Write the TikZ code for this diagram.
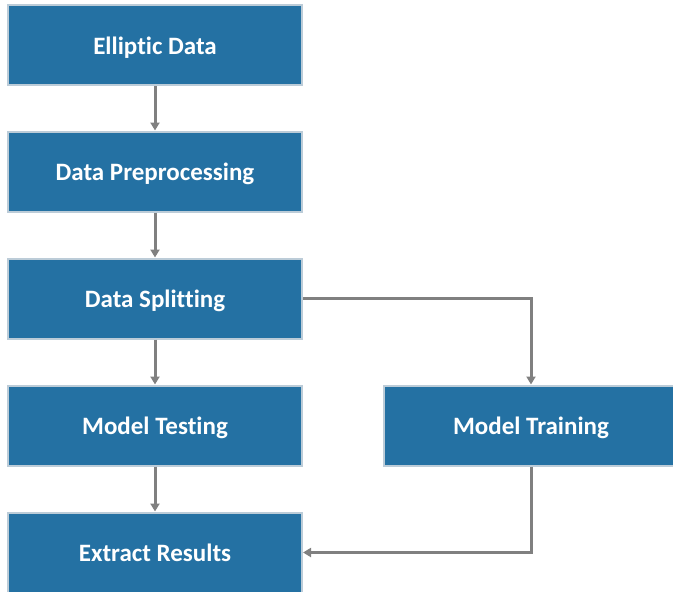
\documentclass[tikz,border=0pt]{standalone}
\usepackage{fontspec}
\setmainfont{Carlito}[RawFeature=-liga]
\definecolor{flowblue}{RGB}{36,113,163}
\definecolor{flowedge}{RGB}{188,204,216}
\definecolor{flowgray}{RGB}{128,128,128}
\usetikzlibrary{arrows.meta, positioning}

\begin{document}
\begin{tikzpicture}[x=1pt, y=-1pt,
          step box/.style={
              draw=flowedge,
              fill=flowblue,
              line width=2pt,
              minimum width=294pt,
              minimum height=80pt,
              text height=18pt,
              text depth=0pt,
              text=white,
              font=\fontsize{25}{30}\selectfont\bfseries
            },
          arr/.style={-{Triangle[length=8pt, width=9pt]}, flowgray, line width=3pt}
        ]
        \useasboundingbox (0,0) rectangle (673,592);

        \node[step box] (data) at (155,45) {Elliptic Data};
        \node[step box] (prep) at (155,171.5) {Data Preprocessing};
        \node[step box] (split) at (155,298.5) {Data Splitting};
        \node[step box] (test) at (155,425.5) {Model Testing};
        \node[step box] (result) at (155,552.5) {Extract Results};
        \node[step box] (train) at (531,425.5) {Model Training};

        \draw[arr] (data) -- (prep);
        \draw[arr] (prep) -- (split);
        \draw[arr] (split) -- (test);
        \draw[arr] (test) -- (result);
        \draw[arr] (split.east) -| (train.north);
        \draw[arr] (train.south) |- (result.east);
      \end{tikzpicture}
\end{document}
